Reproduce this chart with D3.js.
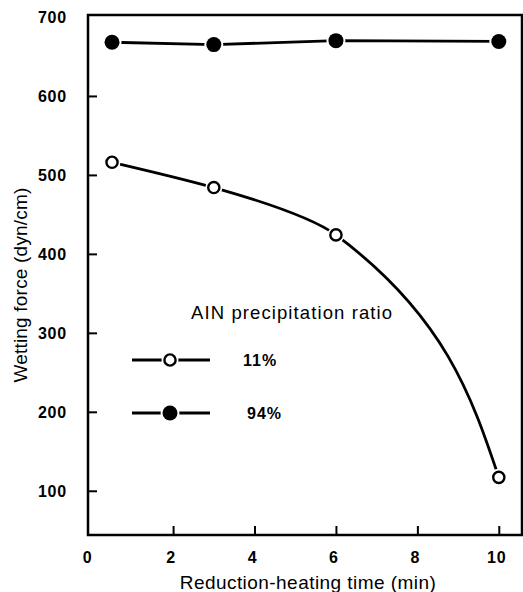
<!DOCTYPE html>
<html>
<head>
<meta charset="utf-8">
<script src="https://cdn.jsdelivr.net/npm/d3@7"></script>
<style>
  html, body { margin: 0; padding: 0; background: #fff; }
  svg { display: block; }
  text { font-family: "Liberation Sans", Arial, sans-serif; fill: #000; }
</style>
</head>
<body>
<svg id="chart" width="523" height="592"></svg>
<script>
// Reduction-heating time (min)
const timeMin = [0.5, 3, 6, 10];
// Wetting force (dyn/cm) for each AlN precipitation ratio
const force11 = [516, 484, 424, 117];
const force94 = [668, 665, 670, 669];
const xTicks = [0, 2, 4, 6, 8, 10];
const yTicks = [100, 200, 300, 400, 500, 600, 700];
const legendTitle = "AIN precipitation ratio";
const seriesLabels = ["11%", "94%"];

(function () {
  const svg = d3.select("#chart");
  const plotL = 88, plotR = 522, plotT = 15, plotB = 535;

  const x = d3.scaleLinear().domain([-0.09, 10.57]).range([plotL, plotR]);
  const y = d3.scaleLinear().domain([44, 702.5]).range([plotB, plotT]);

  // frame
  svg.append("rect")
    .attr("x", plotL).attr("y", plotT)
    .attr("width", plotR - plotL).attr("height", plotB - plotT)
    .attr("fill", "none").attr("stroke", "#000").attr("stroke-width", 2.5);

  // axes with inward ticks
  const xAxis = svg.append("g").attr("transform", `translate(0,${plotB})`)
    .call(d3.axisTop(x).tickValues(xTicks.slice(1)).tickSize(9).tickFormat(""));
  xAxis.select(".domain").remove();
  xAxis.selectAll("line").attr("stroke-width", 2);

  const yAxis = svg.append("g").attr("transform", `translate(${plotL},0)`)
    .call(d3.axisRight(y).tickValues(yTicks.slice(0, -1)).tickSize(9).tickFormat(""));
  yAxis.select(".domain").remove();
  yAxis.selectAll("line").attr("stroke-width", 2);

  // tick labels
  svg.selectAll(".xl").data(xTicks).enter().append("text")
    .attr("x", d => d === 0 ? x(d) - 4 : x(d) - 2)
    .attr("y", 563)
    .attr("text-anchor", "middle")
    .attr("font-size", 16).attr("font-weight", "bold").attr("letter-spacing", 0.8)
    .text(d => d);

  svg.selectAll(".yl").data(yTicks).enter().append("text")
    .attr("x", 67)
    .attr("y", d => y(d) + 6)
    .attr("text-anchor", "end")
    .attr("font-size", 16).attr("font-weight", "bold").attr("letter-spacing", 0.8)
    .text(d => d);

  // axis titles
  svg.append("text")
    .attr("x", 308).attr("y", 589)
    .attr("text-anchor", "middle")
    .attr("font-size", 19).attr("letter-spacing", 0.45)
    .text("Reduction-heating time (min)");

  svg.append("text")
    .attr("transform", "translate(27,285) rotate(-90)")
    .attr("text-anchor", "middle")
    .attr("font-size", 19).attr("letter-spacing", 0.2)
    .text("Wetting force (dyn/cm)");

  // series
  const pts11 = timeMin.map((t, i) => [t, force11[i]]);
  const pts94 = timeMin.map((t, i) => [t, force94[i]]);

  svg.append("path")
    .attr("d", d3.line().x(d => x(d[0])).y(d => y(d[1])).curve(d3.curveLinear)(pts94))
    .attr("fill", "none").attr("stroke", "#000").attr("stroke-width", 2.8);

  // the 11% series falls monotonically, so a curve monotone in y follows it smoothly
  svg.append("path")
    .attr("d", d3.line().x(d => x(d[0])).y(d => y(d[1])).curve(d3.curveMonotoneY)(pts11))
    .attr("fill", "none").attr("stroke", "#000").attr("stroke-width", 2.8);

  function marker(g, cx, cy, filled) {
    g.append("circle").attr("cx", cx).attr("cy", cy)
      .attr("r", filled ? 9.5 : 8.5).attr("fill", "#fff");
    g.append("circle").attr("cx", cx).attr("cy", cy)
      .attr("r", filled ? 7.5 : 5.6)
      .attr("fill", filled ? "#000" : "#fff")
      .attr("stroke", "#000").attr("stroke-width", filled ? 0 : 2.4);
  }
  pts94.forEach(d => marker(svg, x(d[0]), y(d[1]), true));
  pts11.forEach(d => marker(svg, x(d[0]), y(d[1]), false));

  // legend
  svg.append("text")
    .attr("x", 191).attr("y", 319)
    .attr("font-size", 18.5).attr("letter-spacing", 1.1)
    .text(legendTitle);

  const legendRows = [{ ly: 360, filled: false, lx: 243 }, { ly: 413, filled: true, lx: 247 }];
  legendRows.forEach((r, i) => {
    svg.append("line").attr("x1", 132).attr("x2", 210).attr("y1", r.ly).attr("y2", r.ly)
      .attr("stroke", "#000").attr("stroke-width", 2.8);
    marker(svg, 170, r.ly, r.filled);
    svg.append("text").attr("x", r.lx).attr("y", r.ly + 6)
      .attr("font-size", 16).attr("font-weight", "bold").attr("letter-spacing", 1)
      .text(seriesLabels[i]);
  });
})();
</script>
</body>
</html>
